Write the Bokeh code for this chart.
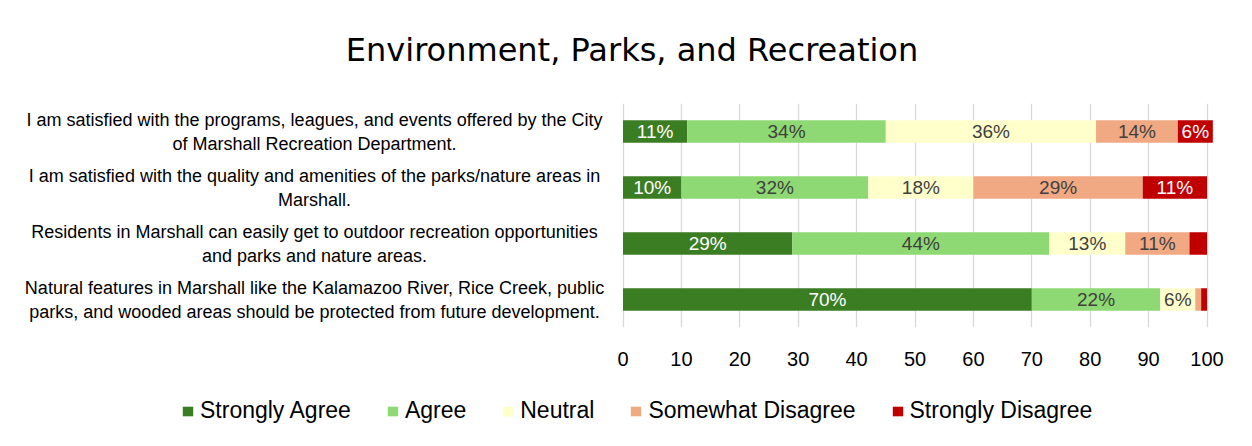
from bokeh.plotting import figure
from bokeh.layouts import column
from bokeh.models import Range1d, FactorRange, FixedTicker, Legend, LegendItem, ColumnDataSource, Label
from bokeh.core.properties import value
from bokeh.embed import file_html
from bokeh.resources import INLINE

# ---------------- data ----------------
title_text = "Environment, Parks, and Recreation"
statements = [
    "I am satisfied with the programs, leagues, and events offered by the City\nof Marshall Recreation Department.",
    "I am satisfied with the quality and amenities of the parks/nature areas in\nMarshall.",
    "Residents in Marshall can easily get to outdoor recreation opportunities\nand parks and nature areas.",
    "Natural features in Marshall like the Kalamazoo River, Rice Creek, public\nparks, and wooded areas should be protected from future development.",
]
responses = ["Strongly Agree", "Agree", "Neutral", "Somewhat Disagree", "Strongly Disagree"]
strongly_agree = [11, 10, 29, 70]
agree = [34, 32, 44, 22]
neutral = [36, 18, 13, 6]
somewhat_disagree = [14, 29, 11, 1]
strongly_disagree = [6, 11, 3, 1]
x_ticks = [0, 10, 20, 30, 40, 50, 60, 70, 80, 90, 100]

# ---------------- style ----------------
colors = ["#3B7D23", "#8ED973", "#FFFFCC", "#F1A983", "#C00000"]
label_colors = ["#FFFFFF", "#404040", "#404040", "#404040", "#FFFFFF"]
W = 1236
H_TITLE, H_MAIN, H_LEG = 95, 285, 50
FRAME_TOP, FRAME_H = 8, 224
ZERO_PX, PX_PER_UNIT = 622.5, 5.84
CAT_LABEL_PX = 314
TITLE_X, TITLE_Y = 631.5, 49
x_start = -ZERO_PX / PX_PER_UNIT
x_end = x_start + W / PX_PER_UNIT

series = [strongly_agree, agree, neutral, somewhat_disagree, strongly_disagree]
data = {"stmt": statements}
for name, vals in zip(responses, series):
    data[name] = vals
source = ColumnDataSource(data)

# ---------------- title strip ----------------
pt = figure(width=W, height=H_TITLE, output_backend="svg", toolbar_location=None,
            x_range=Range1d(0, W), y_range=Range1d(0, H_TITLE),
            x_axis_location=None, y_axis_location=None,
            min_border_left=0, min_border_right=0, min_border_top=0, min_border_bottom=0)
pt.outline_line_color = None
pt.xgrid.visible = False
pt.ygrid.visible = False
pt.add_layout(Label(x=TITLE_X, y=H_TITLE - TITLE_Y, text=title_text, text_align="center",
                    text_baseline="middle", text_font="DejaVu Sans", text_font_size="32px",
                    text_color="#000000"))

# ---------------- main chart ----------------
p = figure(width=W, height=H_MAIN, output_backend="svg", toolbar_location=None,
           x_range=Range1d(x_start, x_end),
           y_range=FactorRange(factors=statements[::-1], range_padding=0),
           y_axis_location=None,
           min_border_left=0, min_border_right=0,
           min_border_top=FRAME_TOP, min_border_bottom=H_MAIN - FRAME_TOP - FRAME_H)
p.outline_line_color = None
p.background_fill_color = "white"
p.border_fill_color = "white"

p.ygrid.visible = False
p.xgrid.ticker = FixedTicker(ticks=x_ticks)
p.xgrid.grid_line_color = "#D9D9D9"
p.xgrid.grid_line_width = 1.3
p.xaxis.ticker = FixedTicker(ticks=x_ticks)
p.xaxis.axis_line_color = None
p.xaxis.major_tick_line_color = None
p.xaxis.minor_tick_line_color = None
p.xaxis.major_label_text_font = "Liberation Sans"
p.xaxis.major_label_text_font_size = "20px"
p.xaxis.major_label_text_color = "#000000"
p.xaxis.major_label_standoff = 18

# bars
p.hbar_stack(responses, y="stmt", height=0.4, color=colors, line_color=None, source=source)

# value labels
lx, ly, lt, lc = [], [], [], []
for i, stmt in enumerate(statements):
    left = 0
    for k, vals in enumerate(series):
        v = vals[i]
        if v >= 5:
            lx.append(left + v / 2)
            ly.append(stmt)
            lt.append(f"{v}%")
            lc.append(label_colors[k])
        left += v
p.text(x=lx, y=ly, text=lt, text_color=lc, text_align="center", text_baseline="middle",
       text_font=value("Liberation Sans"), text_font_size="19px")

# category labels
cat_x = (CAT_LABEL_PX - ZERO_PX) / PX_PER_UNIT
p.text(x=[cat_x] * len(statements), y=statements, text=statements, text_align="center",
       text_baseline="middle", text_font=value("Liberation Sans"), text_font_size="18px",
       text_color="#000000", text_line_height=1.2)

# ---------------- legend strip (same stacked series, drawn out of view) ----------------
pl = figure(width=W, height=H_LEG, output_backend="svg", toolbar_location=None,
            x_range=Range1d(-2, -1), y_range=FactorRange(factors=statements[::-1]),
            x_axis_location=None, y_axis_location=None,
            min_border_left=0, min_border_right=0, min_border_top=0, min_border_bottom=0)
pl.outline_line_color = None
pl.xgrid.visible = False
pl.ygrid.visible = False
leg_renderers = pl.hbar_stack(responses, y="stmt", height=0.4, color=colors, line_color=None, source=source)
legend = Legend(items=[LegendItem(label=n, renderers=[r]) for n, r in zip(responses, leg_renderers)],
                orientation="horizontal", location=(181, 6))
legend.label_text_font = "Liberation Sans"
legend.label_text_font_size = "23px"
legend.label_text_color = "#000000"
legend.glyph_width = 13
legend.glyph_height = 12
legend.label_standoff = 6
legend.spacing = 35
legend.padding = 5
legend.border_line_color = None
legend.background_fill_alpha = 0
legend.margin = 0
pl.add_layout(legend)

layout = column(pt, p, pl, spacing=0)
open("out.html", "w").write(file_html(layout, INLINE))
